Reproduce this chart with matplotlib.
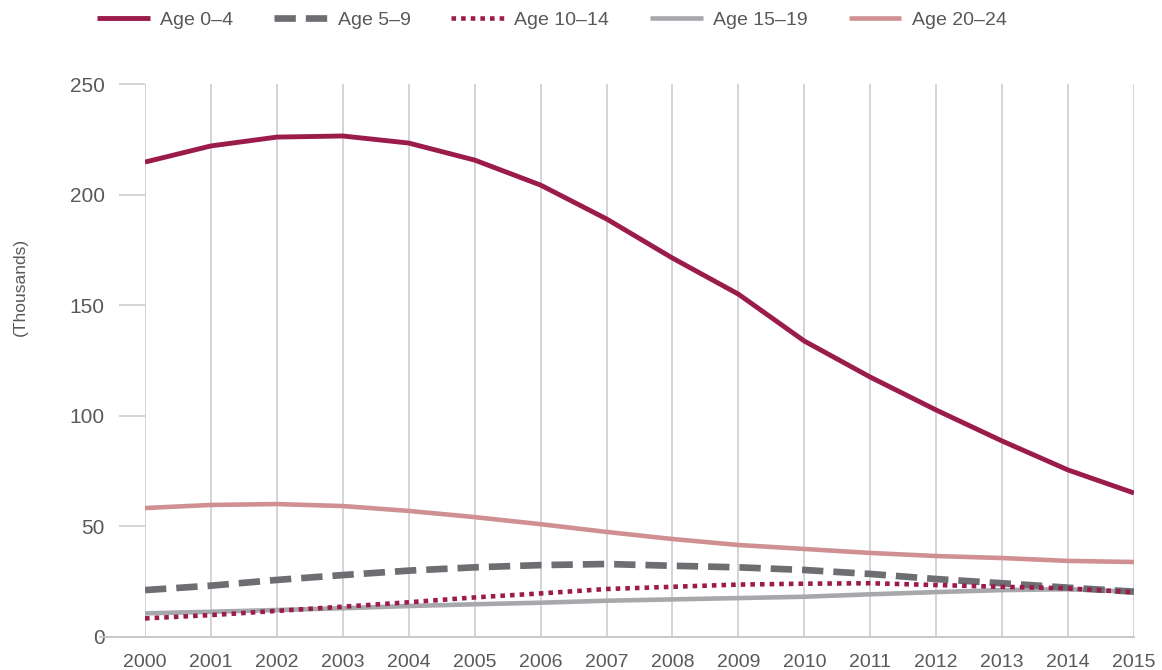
import matplotlib.pyplot as plt

years = list(range(2000, 2016))
age_0_4 = [214.7, 222.0, 226.0, 226.5, 223.3, 215.6, 204.3, 189.0, 171.3, 155.0,
           133.8, 117.5, 102.6, 88.6, 75.5, 65.1]
age_5_9 = [21.2, 23.2, 25.8, 28.0, 30.0, 31.5, 32.5, 33.0, 32.2, 31.5,
           30.3, 28.5, 26.2, 24.3, 22.3, 20.5]
age_10_14 = [8.4, 9.9, 11.8, 13.7, 15.7, 17.9, 19.7, 21.7, 22.7, 23.7,
             24.1, 24.3, 23.5, 22.7, 22.0, 20.2]
age_15_19 = [10.7, 11.4, 12.2, 13.0, 14.0, 14.8, 15.5, 16.4, 17.0, 17.6,
             18.2, 19.3, 20.3, 21.2, 21.6, 20.5]
age_20_24 = [58.3, 59.7, 60.1, 59.2, 57.0, 54.2, 51.0, 47.5, 44.3, 41.6,
             39.8, 38.0, 36.6, 35.7, 34.4, 33.9]
y_ticks = [0, 50, 100, 150, 200, 250]

plt.rcParams['font.family'] = ['Liberation Sans', 'DejaVu Sans']
txt = '#58595B'
grid = '#C9C9CB'

fig = plt.figure(figsize=(11.62, 6.70), dpi=100)
ax = fig.add_axes([145/1162, 1-637/670, (1134-145)/1162, (637-84)/670])

for y in years:
    ax.plot([y, y], [0, 250], color=grid, lw=1.1, zorder=1)

ax.plot(years, age_0_4, color='#9B1B4B', lw=3.5, label='Age 0–4', zorder=5,
        solid_capstyle='butt')
ax.plot(years, age_5_9, color='#6D6E71', lw=4.8, label='Age 5–9', zorder=4,
        linestyle=(0, (3.2, 1.5)), dash_capstyle='butt')
ax.plot(years, age_10_14, color='#9B1B4B', lw=3.3, label='Age 10–14', zorder=4,
        linestyle=(0, (1.0, 1.1)), dash_capstyle='butt')
ax.plot(years, age_15_19, color='#A7A8AC', lw=3.3, label='Age 15–19', zorder=3,
        solid_capstyle='butt')
ax.plot(years, age_20_24, color='#D09092', lw=3.3, label='Age 20–24', zorder=3,
        solid_capstyle='butt')

ax.set_xlim(2000, 2015)
ax.set_ylim(0, 250)
for edge in ['top', 'right', 'bottom', 'left']:
    ax.spines[edge].set_visible(False)

ax.axhline(0, xmin=-0.046, xmax=1, color=grid, lw=1.4, clip_on=False, zorder=2)

ax.set_xticks(years)
ax.set_yticks(y_ticks)
ax.tick_params(axis='x', length=0, pad=12, labelsize=14, labelcolor=txt)
ax.tick_params(axis='y', length=19, width=1.1, color=grid, pad=10,
               labelsize=15, labelcolor=txt)

fig.text(20/1162, 1-287/670, '(Thousands)', rotation=90, ha='center', va='center',
         fontsize=12.5, color=txt)

leg = ax.legend(loc='center', bbox_to_anchor=(552/1162, 1-20/670),
                bbox_transform=fig.transFigure, ncol=5, frameon=False,
                fontsize=14, handlelength=2.7, handletextpad=0.55,
                columnspacing=2.1)
for t in leg.get_texts():
    t.set_color(txt)

fig.savefig('out.png', dpi=100)
